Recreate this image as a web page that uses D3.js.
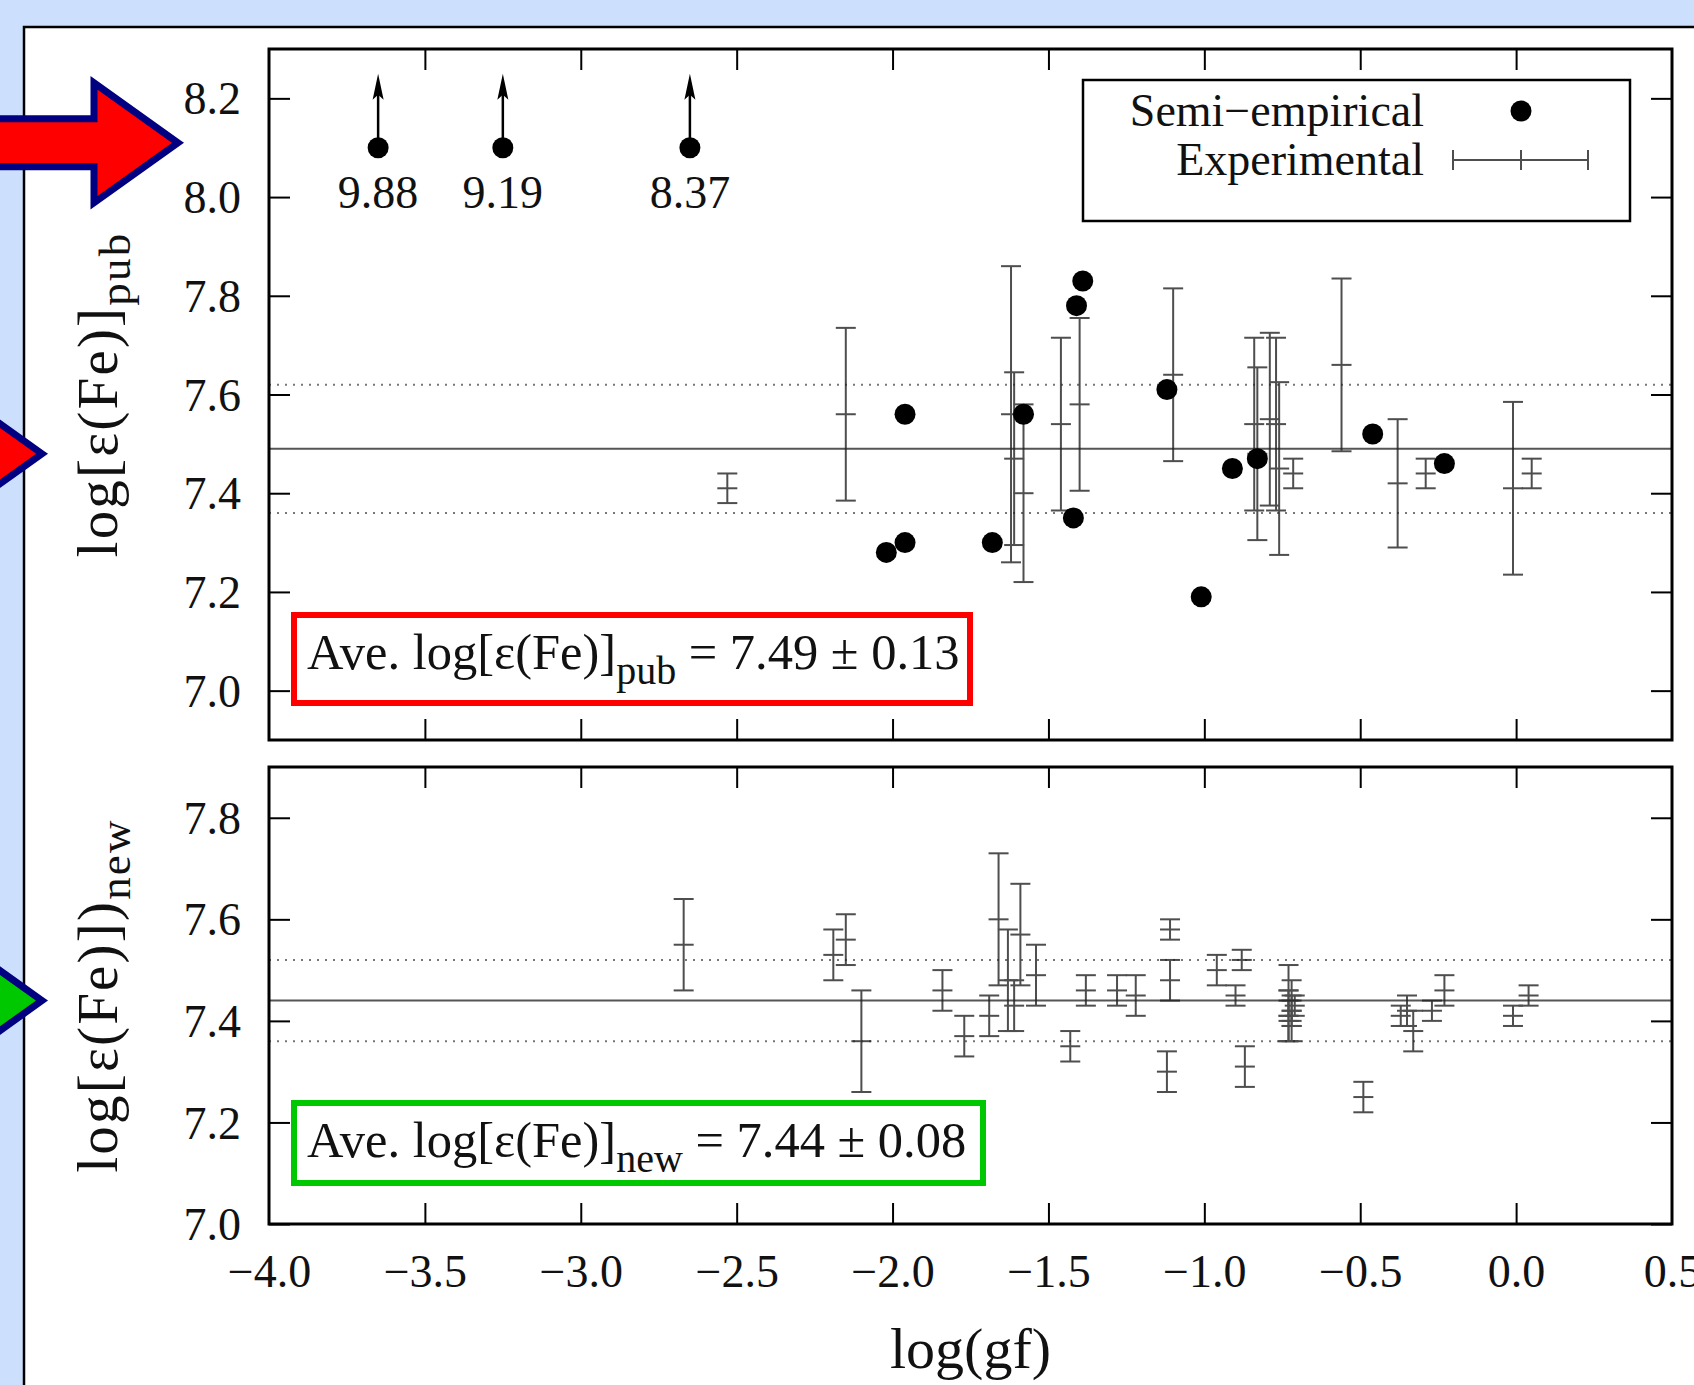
<!DOCTYPE html>
<html>
<head>
<meta charset="utf-8">
<script src="https://cdn.jsdelivr.net/npm/d3@7"></script>
<style>
  html, body { margin: 0; padding: 0; background: #cce0fe; }
  svg { display: block; }
  text { font-family: "Liberation Serif", "Times New Roman", serif; fill: #111; }
</style>
</head>
<body>
<svg id="chart" width="1694" height="1385"></svg>
<script>
// ---- values ----
var xTicks = [-4.0, -3.5, -3.0, -2.5, -2.0, -1.5, -1.0, -0.5, 0.0, 0.5];
var yTicksPub = [7.0, 7.2, 7.4, 7.6, 7.8, 8.0, 8.2];
var yTicksNew = [7.0, 7.2, 7.4, 7.6, 7.8];

// semi-empirical lines (published abundances)
var semiLogGf = [-2.02, -1.96, -1.96, -1.68, -1.58, -1.42, -1.41, -1.39, -1.12, -1.01, -0.91, -0.83, -0.46, -0.23];
var semiAbund = [7.28, 7.30, 7.56, 7.30, 7.56, 7.35, 7.78, 7.83, 7.61, 7.19, 7.45, 7.47, 7.52, 7.46];

// semi-empirical lines above the plot range
var offLogGf = [-3.65, -3.25, -2.65];
var offAbund = [9.88, 9.19, 8.37];
var offShownAt = 8.1;

// experimental lines, published abundances
var expPubLogGf = [-2.53, -2.15, -1.62, -1.61, -1.58, -1.46, -1.40, -1.10, -0.84, -0.83, -0.79, -0.77, -0.76, -0.715, -0.56, -0.38, -0.29, -0.01, 0.05];
var expPubAbund = [7.41, 7.56, 7.56, 7.47, 7.40, 7.54, 7.58, 7.64, 7.54, 7.48, 7.55, 7.54, 7.45, 7.44, 7.66, 7.42, 7.44, 7.41, 7.44];
var expPubErr   = [0.03, 0.175, 0.30, 0.175, 0.18, 0.175, 0.175, 0.175, 0.175, 0.175, 0.175, 0.175, 0.175, 0.03, 0.175, 0.13, 0.03, 0.175, 0.03];

// experimental lines, new abundances
var expNewLogGf = [-2.67, -2.19, -2.15, -2.10, -1.84, -1.77, -1.69, -1.66, -1.63, -1.61, -1.59, -1.54, -1.43, -1.38,
                   -1.28, -1.22, -1.11, -1.11, -1.12, -0.96, -0.88, -0.90, -0.87,
                   -0.73, -0.72, -0.72, -0.73, -0.72, -0.73, -0.71,
                   -0.49, -0.37, -0.35, -0.33, -0.27, -0.23, -0.01, 0.04];
var expNewAbund = [7.55, 7.53, 7.56, 7.36, 7.46, 7.37, 7.41, 7.60, 7.48, 7.43, 7.57, 7.49, 7.35, 7.46,
                   7.46, 7.45, 7.58, 7.48, 7.30, 7.50, 7.52, 7.45, 7.31,
                   7.46, 7.44, 7.42, 7.40, 7.39, 7.41, 7.43,
                   7.25, 7.41, 7.42, 7.38, 7.42, 7.46, 7.41, 7.45];
var expNewErr   = [0.09, 0.05, 0.05, 0.10, 0.04, 0.04, 0.04, 0.13, 0.10, 0.05, 0.10, 0.06, 0.03, 0.03,
                   0.03, 0.04, 0.02, 0.04, 0.04, 0.03, 0.02, 0.02, 0.04,
                   0.05, 0.04, 0.03, 0.04, 0.03, 0.05, 0.02,
                   0.03, 0.02, 0.03, 0.04, 0.02, 0.03, 0.02, 0.02];

var avgPub = 7.49, sdPub = 0.13;
var avgNew = 7.44, sdNew = 0.08;

// ---- layout ----
var svg = d3.select("#chart");
var left = 269, right = 1672;
var serif = "'Liberation Serif', 'Times New Roman', serif";

var x = d3.scaleLinear().domain([-4, 0.5]).range([left, right]);
var yPub = d3.scaleLinear().domain([6.9, 8.3]).range([740, 49]);
var yNew = d3.scaleLinear().domain([7.0, 7.9]).range([1224, 767]);

// white panel on the blue slide
svg.append("rect")
    .attr("x", 24).attr("y", 27)
    .attr("width", 1800).attr("height", 1500)
    .attr("fill", "#fff").attr("stroke", "#000").attr("stroke-width", 2.5);

var expColor = "#222", expOpacity = 0.8;

function drawPanel(y, yTicks, showXLabels, avg, sd) {
  var g = svg.append("g");
  var top = y.range()[1], bottom = y.range()[0];

  // average and +/- sigma lines
  g.append("line")
      .attr("x1", left).attr("x2", right)
      .attr("y1", y(avg)).attr("y2", y(avg))
      .attr("stroke", "#555").attr("stroke-width", 2);
  [avg - sd, avg + sd].forEach(function(v) {
    g.append("line")
        .attr("x1", left).attr("x2", right)
        .attr("y1", y(v)).attr("y2", y(v))
        .attr("stroke", "#777").attr("stroke-width", 2)
        .attr("stroke-dasharray", "2,6");
  });

  // axes with inward ticks, mirrored
  var ax = [
    g.append("g").attr("transform", "translate(" + left + ",0)")
      .call(d3.axisLeft(y).tickValues(yTicks).tickSize(-21).tickPadding(28).tickFormat(d3.format(".1f"))),
    g.append("g").attr("transform", "translate(" + right + ",0)")
      .call(d3.axisRight(y).tickValues(yTicks).tickSize(-21).tickFormat("")),
    g.append("g").attr("transform", "translate(0," + top + ")")
      .call(d3.axisTop(x).tickValues(xTicks.slice(1, -1)).tickSize(-21).tickFormat("")),
    g.append("g").attr("transform", "translate(0," + bottom + ")")
      .call(d3.axisBottom(x).tickValues(showXLabels ? xTicks : xTicks.slice(1, -1)).tickSize(-21).tickPadding(30)
        .tickFormat(showXLabels ? d3.format(".1f") : ""))
  ];
  ax.forEach(function(a) {
    a.select(".domain").remove();
    a.selectAll("line").attr("stroke", "#000").attr("stroke-width", 2);
    a.selectAll("text").attr("font-size", 46).attr("font-family", serif).attr("fill", "#111");
  });
  ax[0].selectAll("text").attr("dy", "0.34em");
  if (showXLabels) {
    ax[3].selectAll("line").filter(function(d) { return d === -4 || d === 0.5; }).remove();
  }

  // frame
  g.append("rect")
      .attr("x", left).attr("y", top)
      .attr("width", right - left).attr("height", bottom - top)
      .attr("fill", "none").attr("stroke", "#000").attr("stroke-width", 3);
  return g;
}

function drawErrorBars(g, y, xs, ys, es) {
  var bars = g.append("g")
      .attr("stroke", expColor).attr("stroke-width", 2).attr("opacity", expOpacity)
    .selectAll("g")
    .data(xs.map(function(d, i) { return {x: d, y: ys[i], e: es[i]}; }))
    .enter().append("g");
  bars.append("line")
      .attr("x1", function(d) { return x(d.x); }).attr("x2", function(d) { return x(d.x); })
      .attr("y1", function(d) { return y(d.y - d.e); }).attr("y2", function(d) { return y(d.y + d.e); });
  [-1, 1, 0].forEach(function(s) {
    bars.append("line")
        .attr("x1", function(d) { return x(d.x) - 10; }).attr("x2", function(d) { return x(d.x) + 10; })
        .attr("y1", function(d) { return y(d.y + s * d.e); }).attr("y2", function(d) { return y(d.y + s * d.e); });
  });
}

// ---- upper panel: published abundances ----
var gPub = drawPanel(yPub, yTicksPub, false, avgPub, sdPub);
drawErrorBars(gPub, yPub, expPubLogGf, expPubAbund, expPubErr);

gPub.append("g").selectAll("circle")
    .data(semiLogGf.map(function(d, i) { return [d, semiAbund[i]]; }))
    .enter().append("circle")
      .attr("cx", function(d) { return x(d[0]); })
      .attr("cy", function(d) { return yPub(d[1]); })
      .attr("r", 10.5).attr("fill", "#000");

// off-scale points: dot, arrow upward and value
var off = gPub.append("g").selectAll("g")
    .data(offLogGf.map(function(d, i) { return [d, offAbund[i]]; }))
    .enter().append("g");
off.append("line")
    .attr("x1", function(d) { return x(d[0]); }).attr("x2", function(d) { return x(d[0]); })
    .attr("y1", yPub(offShownAt)).attr("y2", yPub(8.25) + 18)
    .attr("stroke", "#000").attr("stroke-width", 2.5);
off.append("path")
    .attr("d", function(d) {
      var cx = x(d[0]), t = yPub(8.25);
      return "M" + cx + "," + t + "L" + (cx - 5.5) + "," + (t + 26) + "L" + cx + "," + (t + 21) + "L" + (cx + 5.5) + "," + (t + 26) + "Z";
    })
    .attr("fill", "#000");
off.append("circle")
    .attr("cx", function(d) { return x(d[0]); })
    .attr("cy", yPub(offShownAt))
    .attr("r", 10.5).attr("fill", "#000");
off.append("text")
    .attr("x", function(d) { return x(d[0]); })
    .attr("y", yPub(offShownAt) + 60)
    .attr("text-anchor", "middle")
    .attr("font-size", 46)
    .text(function(d) { return d[1].toFixed(2); });

// legend
var legend = gPub.append("g");
legend.append("rect")
    .attr("x", 1083).attr("y", 80).attr("width", 547).attr("height", 141)
    .attr("fill", "#fff").attr("stroke", "#000").attr("stroke-width", 2.5);
legend.append("text").attr("x", 1424).attr("y", 126)
    .attr("text-anchor", "end").attr("font-size", 46).text("Semi\u2212empirical");
legend.append("circle").attr("cx", 1521).attr("cy", 111).attr("r", 10.5).attr("fill", "#000");
legend.append("text").attr("x", 1424).attr("y", 175)
    .attr("text-anchor", "end").attr("font-size", 46).text("Experimental");
var key = legend.append("g").attr("stroke", expColor).attr("stroke-width", 2).attr("opacity", expOpacity);
key.append("line").attr("x1", 1453).attr("x2", 1588).attr("y1", 160).attr("y2", 160);
[1453, 1521, 1588].forEach(function(px) {
  key.append("line").attr("x1", px).attr("x2", px).attr("y1", 150).attr("y2", 170);
});

// ---- lower panel: new abundances ----
var gNew = drawPanel(yNew, yTicksNew, true, avgNew, sdNew);
drawErrorBars(gNew, yNew, expNewLogGf, expNewAbund, expNewErr);

// ---- axis titles ----
function subLabel(sel, main, sub, tail, subSize, shift) {
  sel.append("tspan").text(main);
  sel.append("tspan").attr("font-size", subSize).attr("dy", shift).text(sub);
  if (tail) sel.append("tspan").attr("dy", -shift).text(tail);
}

subLabel(svg.append("text")
    .attr("transform", "translate(117," + ((yPub.range()[0] + yPub.range()[1]) / 2) + ") rotate(-90)")
    .attr("text-anchor", "middle").attr("font-size", 57).attr("letter-spacing", 2.2),
  "log[\u03b5(Fe)]", "pub", null, 45, 13);

subLabel(svg.append("text")
    .attr("transform", "translate(117," + ((yNew.range()[0] + yNew.range()[1]) / 2) + ") rotate(-90)")
    .attr("text-anchor", "middle").attr("font-size", 57).attr("letter-spacing", 2.2),
  "log[\u03b5(Fe)])", "new", null, 45, 13);

svg.append("text")
    .attr("x", (left + right) / 2).attr("y", 1368)
    .attr("text-anchor", "middle").attr("font-size", 58)
    .text("log(gf)");

// ---- average boxes ----
function avgBox(x0, y0, x1, y1, color, sub, avg, sd) {
  svg.append("rect")
      .attr("x", x0).attr("y", y0).attr("width", x1 - x0).attr("height", y1 - y0)
      .attr("fill", "#fff").attr("stroke", color).attr("stroke-width", 6);
  var t = svg.append("text").attr("x", x0 + 13).attr("y", y0 + 54).attr("font-size", 50.5);
  subLabel(t, "Ave. log[\u03b5(Fe)]", sub, " = " + avg.toFixed(2) + " \u00b1 " + sd.toFixed(2), 40, 15);
}
avgBox(294, 615, 970, 703, "#ff0000", "pub", avgPub, sdPub);
avgBox(294, 1103, 983, 1183, "#00c800", "new", avgNew, sdNew);

// ---- slide arrows ----
function slideArrow(tipX, tipY, fill) {
  var p = [[tipX, tipY], [tipX - 84, tipY - 60], [tipX - 84, tipY - 24], [-20, tipY - 24],
           [-20, tipY + 24], [tipX - 84, tipY + 24], [tipX - 84, tipY + 60]];
  svg.append("path")
      .attr("d", "M" + p.join("L") + "Z")
      .attr("fill", fill).attr("stroke", "#000080").attr("stroke-width", 7)
      .attr("stroke-linejoin", "miter").attr("stroke-miterlimit", 10);
}
slideArrow(178, yPub(8.11), "#ff0000");
slideArrow(42, yPub(7.48), "#ff0000");
slideArrow(42, yNew(7.44), "#00c800");
</script>
</body>
</html>
